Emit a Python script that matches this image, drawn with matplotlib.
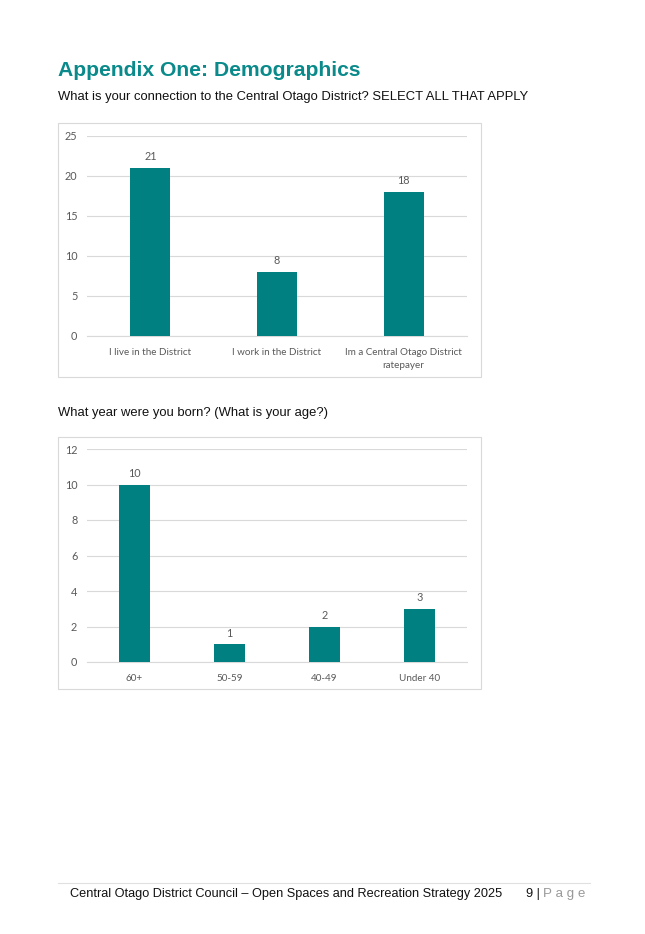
import matplotlib
matplotlib.use("Agg")
import matplotlib.pyplot as plt
from matplotlib.patches import Rectangle
from matplotlib.lines import Line2D

# chart 1: connection to the district
conn_labels = ["I live in the District", "I work in the District", "Im a Central Otago District\nratepayer"]
conn_values = [21, 8, 18]

# chart 2: age groups
age_labels = ["60+", "50-59", "40-49", "Under 40"]
age_values = [10, 1, 2, 3]

W, H = 645, 934
teal = "#008080"
grid_c = "#d9d9d9"
tick_c = "#595959"
chart_font = "Lato"
page_font = "Liberation Sans"

fig = plt.figure(figsize=(W / 100, H / 100), dpi=100)


def fx(px):
    return px / W


def fy(py):
    return 1 - py / H


def frame(x0, y0, x1, y1):
    fig.patches.append(Rectangle((fx(x0), fy(y1)), fx(x1 - x0), (y1 - y0) / H,
                                 transform=fig.transFigure, fill=False,
                                 edgecolor=grid_c, linewidth=0.8))


def bar_chart(rect, labels, values, ymax, step):
    ax = fig.add_axes(rect)
    x = range(len(values))
    ax.bar(x, values, width=0.316, color=teal, zorder=3)
    for xi, v in zip(x, values):
        ax.annotate(str(v), (xi, v), xytext=(0, 4.0), textcoords="offset points",
                    ha="center", va="bottom", fontsize=7.8, color=tick_c, family=chart_font)
    ax.set_xlim(-0.5, len(values) - 0.5)
    ax.set_ylim(0, ymax)
    ax.set_yticks(range(0, ymax + 1, step))
    ax.set_xticks(list(x))
    ax.set_xticklabels(labels, fontsize=7.1, color=tick_c, family=chart_font, linespacing=1.6)
    for t in ax.get_yticklabels():
        t.set_fontsize(7.8)
        t.set_color(tick_c)
        t.set_family(chart_font)
    ax.grid(axis="y", color=grid_c, linewidth=0.8, zorder=0)
    for s in ["top", "right", "left"]:
        ax.spines[s].set_visible(False)
    ax.spines["bottom"].set_color(grid_c)
    ax.spines["bottom"].set_linewidth(0.8)
    ax.tick_params(axis="both", length=0)
    ax.tick_params(axis="y", pad=7)
    ax.tick_params(axis="x", pad=8.5)
    ax.set_facecolor("none")
    return ax


# page heading
fig.text(fx(58), fy(70), "Appendix One: Demographics", fontsize=15.2, fontweight="bold",
         color="#0a8a8a", family=page_font, va="center")
fig.text(fx(58), fy(97), "What is your connection to the Central Otago District? SELECT ALL THAT APPLY",
         fontsize=9.35, color="#111111", family=page_font, va="center")

frame(58, 123, 481, 377)
bar_chart([fx(87), fy(336), fx(467 - 87), 200 / H], conn_labels, conn_values, 25, 5)

fig.text(fx(58), fy(413), "What year were you born? (What is your age?)",
         fontsize=9.35, color="#111111", family=page_font, va="center")

frame(58, 437, 481, 689)
bar_chart([fx(87), fy(662), fx(467 - 87), 213 / H], age_labels, age_values, 12, 2)

# footer
fig.lines.append(Line2D([fx(58), fx(590)], [fy(883), fy(883)], transform=fig.transFigure,
                        color="#e0e0e0", linewidth=0.8))
fig.text(fx(70), fy(894), "Central Otago District Council \u2013 Open Spaces and Recreation Strategy 2025",
         fontsize=9.2, color="#111111", family=page_font, va="center")
fig.text(fx(526), fy(894), "9 |", fontsize=9.2, color="#111111", family=page_font, va="center")
fig.text(fx(543), fy(894), "P a g e", fontsize=9.6, color="#999999", family=page_font, va="center")

fig.savefig("out.png", dpi=100)
